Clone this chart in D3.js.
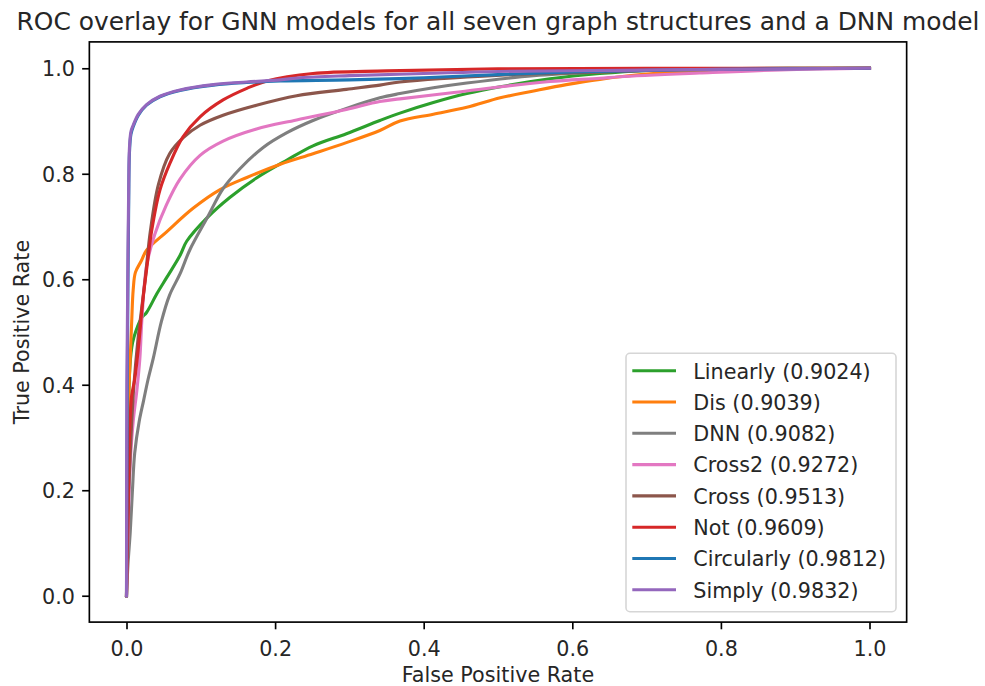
<!DOCTYPE html>
<html>
<head>
<meta charset="utf-8">
<script src="https://cdn.jsdelivr.net/npm/d3@7"></script>
<style>
  html, body { margin: 0; padding: 0; background: #fff; }
  svg text { font-family: "DejaVu Sans", sans-serif; fill: #262626; }
</style>
</head>
<body>
<svg id="chart" width="985" height="686"></svg>
<script>
// ROC curves, [false positive rate, true positive rate]
const linearly = [[0,0],[0.002,0.25],[0.004,0.42],[0.007,0.47],[0.01,0.49],[0.02,0.526],[0.027,0.537],[0.041,0.573],[0.054,0.603],[0.072,0.645],[0.081,0.672],[0.108,0.716],[0.139,0.755],[0.175,0.792],[0.216,0.826],[0.251,0.853],[0.296,0.876],[0.341,0.901],[0.368,0.915],[0.413,0.935],[0.458,0.952],[0.503,0.965],[0.57,0.98],[0.637,0.99],[0.7,0.996],[0.8,0.999],[1,1]];
const dis = [[0,0],[0.001,0.2],[0.003,0.38],[0.005,0.45],[0.007,0.52],[0.009,0.58],[0.012,0.613],[0.02,0.635],[0.027,0.655],[0.054,0.69],[0.09,0.735],[0.126,0.77],[0.162,0.793],[0.207,0.818],[0.251,0.838],[0.296,0.859],[0.341,0.882],[0.368,0.9],[0.413,0.913],[0.458,0.926],[0.503,0.944],[0.548,0.957],[0.592,0.969],[0.637,0.979],[0.7,0.989],[0.8,0.997],[0.9,0.999],[1,1]];
const dnn = [[0,0],[0.002,0.06],[0.005,0.12],[0.008,0.2],[0.011,0.27],[0.017,0.33],[0.023,0.37],[0.029,0.41],[0.036,0.45],[0.047,0.52],[0.058,0.57],[0.072,0.61],[0.085,0.655],[0.108,0.715],[0.13,0.772],[0.153,0.81],[0.184,0.85],[0.216,0.878],[0.251,0.901],[0.296,0.924],[0.341,0.944],[0.368,0.952],[0.413,0.963],[0.458,0.972],[0.548,0.986],[0.637,0.993],[0.75,0.998],[1,1]];
const cross2 = [[0,0],[0.002,0.12],[0.005,0.25],[0.009,0.33],[0.014,0.39],[0.018,0.45],[0.021,0.53],[0.027,0.625],[0.038,0.685],[0.054,0.742],[0.072,0.79],[0.099,0.835],[0.13,0.862],[0.175,0.885],[0.229,0.902],[0.296,0.922],[0.341,0.937],[0.368,0.942],[0.435,0.953],[0.503,0.965],[0.57,0.975],[0.637,0.981],[0.664,0.984],[0.771,0.991],[0.88,0.997],[1,1]];
const cross = [[0,0],[0.001,0.1],[0.003,0.2],[0.006,0.3],[0.01,0.4],[0.015,0.48],[0.02,0.54],[0.025,0.598],[0.032,0.69],[0.043,0.78],[0.058,0.838],[0.076,0.868],[0.099,0.892],[0.13,0.911],[0.175,0.93],[0.229,0.948],[0.296,0.96],[0.341,0.968],[0.368,0.974],[0.503,0.987],[0.637,0.993],[0.8,0.999],[1,1]];
const not = [[0,0],[0.002,0.15],[0.004,0.3],[0.007,0.38],[0.011,0.41],[0.016,0.47],[0.022,0.56],[0.029,0.64],[0.034,0.693],[0.045,0.769],[0.0585,0.82],[0.076,0.87],[0.099,0.908],[0.13,0.94],[0.162,0.962],[0.189,0.976],[0.251,0.99],[0.35,0.995],[0.5,0.999],[0.7,1],[1,1]];
const circularly = [[0,0],[0.001,0.4],[0.002,0.6],[0.003,0.75],[0.004,0.84],[0.006,0.875],[0.009,0.889],[0.016,0.911],[0.027,0.93],[0.045,0.946],[0.072,0.958],[0.117,0.968],[0.162,0.973],[0.207,0.976],[0.3,0.978],[0.4,0.982],[0.5,0.988],[0.6,0.993],[0.7,0.996],[0.8,0.998],[1,1]];
const simply = [[0,0],[0.0005,0.4],[0.002,0.65],[0.003,0.78],[0.004,0.85],[0.006,0.88],[0.009,0.892],[0.016,0.913],[0.027,0.931],[0.045,0.947],[0.072,0.959],[0.117,0.969],[0.162,0.974],[0.207,0.978],[0.233,0.982],[0.3,0.986],[0.4,0.99],[0.5,0.994],[0.664,0.996],[0.8,0.998],[1,1]];

const modelNames = ["Linearly", "Dis", "DNN", "Cross2", "Cross", "Not", "Circularly", "Simply"];
const aucValues = ["0.9024", "0.9039", "0.9082", "0.9272", "0.9513", "0.9609", "0.9812", "0.9832"];
const curveData = [linearly, dis, dnn, cross2, cross, not, circularly, simply];
const modelColors = ["#2ca02c", "#ff7f0e", "#7f7f7f", "#e377c2", "#8c564b", "#d62728", "#1f77b4", "#9467bd"];
const tickValues = [0, 0.2, 0.4, 0.6, 0.8, 1.0];

const svg = d3.select("#chart");
const fs = 20.7;           // base font size
const plot = { left: 89.35, right: 906.65, top: 41.9, bottom: 622.1 };

const x = d3.scaleLinear().domain([-0.05, 1.05]).range([plot.left, plot.right]);
const y = d3.scaleLinear().domain([-0.05, 1.05]).range([plot.bottom, plot.top]);

// curves
const line = d3.line()
  .x(d => x(d[0]))
  .y(d => y(d[1]))
  .curve(d3.curveCatmullRom.alpha(0.5));

const g = svg.append("g");
g.selectAll("path.roc")
  .data(curveData)
  .join("path")
  .attr("class", "roc")
  .attr("fill", "none")
  .attr("stroke", (d, i) => modelColors[i])
  .attr("stroke-width", 3.1)
  .attr("stroke-linejoin", "round")
  .attr("stroke-linecap", "square")
  .attr("d", line);

// axes
const fmt = d3.format(".1f");
const xAxis = d3.axisBottom(x).tickValues(tickValues).tickFormat(fmt).tickSize(7.2).tickPadding(7.2);
const yAxis = d3.axisLeft(y).tickValues(tickValues).tickFormat(fmt).tickSize(7.2).tickPadding(7.2);

const gx = svg.append("g").attr("transform", `translate(0,${plot.bottom})`).call(xAxis);
const gy = svg.append("g").attr("transform", `translate(${plot.left},0)`).call(yAxis);
[gx, gy].forEach(a => {
  a.select(".domain").remove();
  a.selectAll(".tick line").attr("stroke", "#000").attr("stroke-width", 1.66);
  a.selectAll(".tick text").attr("font-size", fs).attr("fill", "#262626")
    .attr("font-family", "DejaVu Sans, sans-serif");
});
gx.selectAll(".tick text").attr("dy", "0.95em");
gy.selectAll(".tick text").attr("dy", "0.36em");

// frame
svg.append("rect")
  .attr("x", plot.left).attr("y", plot.top)
  .attr("width", plot.right - plot.left).attr("height", plot.bottom - plot.top)
  .attr("fill", "none").attr("stroke", "#000").attr("stroke-width", 1.66);

// title and axis labels
svg.append("text")
  .attr("x", (plot.left + plot.right) / 2).attr("y", 29.5)
  .attr("text-anchor", "middle").attr("font-size", 24.9)
  .text("ROC overlay for GNN models for all seven graph structures and a DNN model");

svg.append("text")
  .attr("x", (plot.left + plot.right) / 2).attr("y", 682)
  .attr("text-anchor", "middle").attr("font-size", fs)
  .text("False Positive Rate");

svg.append("text")
  .attr("transform", `translate(28.5,${(plot.top + plot.bottom) / 2}) rotate(-90)`)
  .attr("text-anchor", "middle").attr("font-size", fs)
  .text("True Positive Rate");

// legend
const leg = { x: 626, y: 353.3, w: 270, h: 258.4, row: 31.3, first: 370.7 };
const lg = svg.append("g");
lg.append("rect")
  .attr("x", leg.x).attr("y", leg.y).attr("width", leg.w).attr("height", leg.h)
  .attr("rx", 4).attr("ry", 4)
  .attr("fill", "#fff").attr("fill-opacity", 0.8)
  .attr("stroke", "#d6d6d6").attr("stroke-width", 1.6);

const items = lg.selectAll("g.item")
  .data(modelNames)
  .join("g")
  .attr("class", "item")
  .attr("transform", (d, i) => `translate(0,${leg.first + i * leg.row})`);
items.append("line")
  .attr("x1", 632.3).attr("x2", 676)
  .attr("stroke", (d, i) => modelColors[i]).attr("stroke-width", 3.1);
items.append("text")
  .attr("x", 693.3).attr("y", 7.8)
  .attr("font-size", fs)
  .text((d, i) => `${d} (${aucValues[i]})`);
</script>
</body>
</html>
